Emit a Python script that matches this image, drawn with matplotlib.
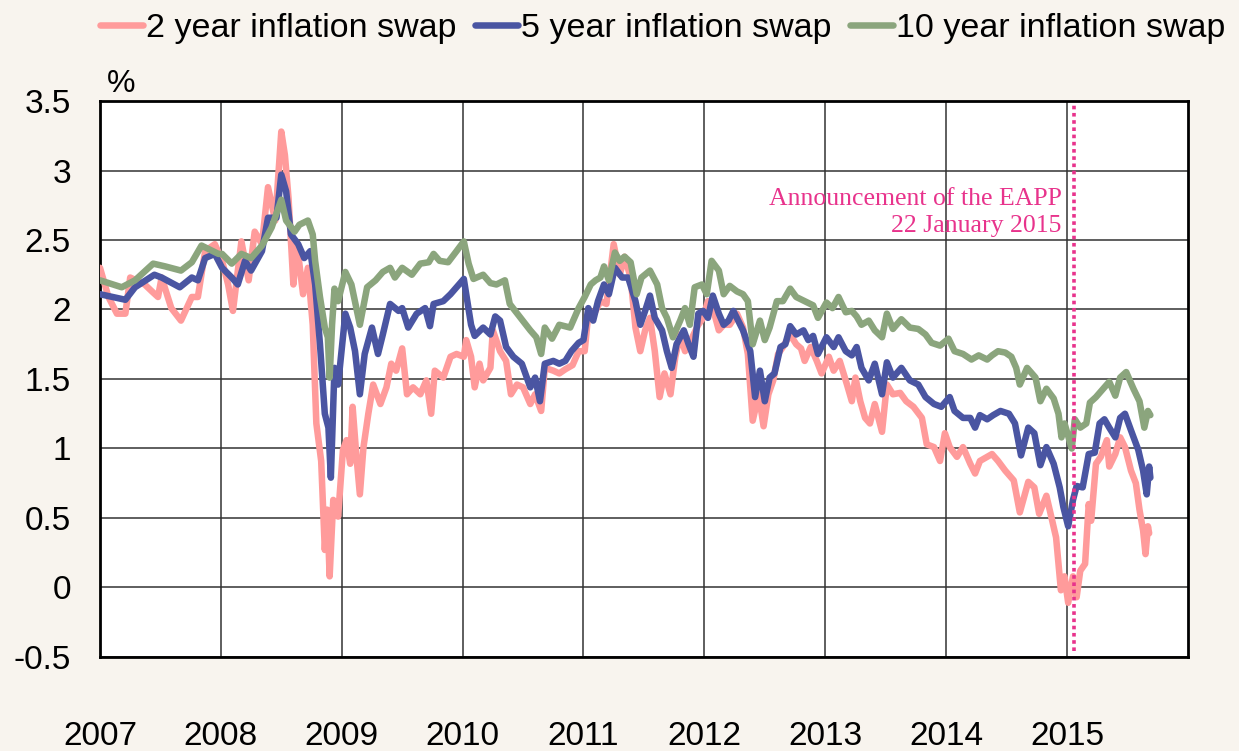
import matplotlib
matplotlib.use("Agg")
import matplotlib.pyplot as plt

plt.rcParams['font.family'] = ['Liberation Sans', 'DejaVu Sans']

# 2 year inflation swap (date as decimal year, value in %)
two_year_dates = [
    2007.00, 2007.07, 2007.14, 2007.21, 2007.25, 2007.37, 2007.43, 2007.48, 2007.51, 2007.59,
    2007.67, 2007.76, 2007.81, 2007.87, 2007.95, 2008.01, 2008.06, 2008.10, 2008.17, 2008.23,
    2008.28, 2008.34, 2008.39, 2008.45, 2008.50, 2008.53, 2008.56, 2008.60, 2008.63, 2008.68,
    2008.72, 2008.76, 2008.79, 2008.83, 2008.86, 2008.88, 2008.90, 2008.93, 2008.97, 2009.01,
    2009.04, 2009.07, 2009.09, 2009.12, 2009.15, 2009.18, 2009.22, 2009.26, 2009.32, 2009.37,
    2009.41, 2009.45, 2009.50, 2009.54, 2009.59, 2009.65, 2009.70, 2009.74, 2009.77, 2009.84,
    2009.90, 2009.95, 2010.01, 2010.03, 2010.07, 2010.10, 2010.14, 2010.17, 2010.23, 2010.25,
    2010.31, 2010.36, 2010.40, 2010.45, 2010.50, 2010.56, 2010.60, 2010.65, 2010.68, 2010.75,
    2010.80, 2010.85, 2010.91, 2010.96, 2011.01, 2011.04, 2011.10, 2011.14, 2011.19, 2011.25,
    2011.30, 2011.34, 2011.39, 2011.43, 2011.47, 2011.51, 2011.55, 2011.59, 2011.63, 2011.67,
    2011.72, 2011.76, 2011.80, 2011.84, 2011.90, 2011.95, 2011.99, 2012.03, 2012.07, 2012.12,
    2012.16, 2012.21, 2012.27, 2012.32, 2012.36, 2012.40, 2012.45, 2012.49, 2012.53, 2012.57,
    2012.61, 2012.65, 2012.71, 2012.76, 2012.80, 2012.83, 2012.88, 2012.93, 2012.97, 2013.03,
    2013.07, 2013.12, 2013.18, 2013.22, 2013.25, 2013.29, 2013.33, 2013.37, 2013.41, 2013.47,
    2013.51, 2013.56, 2013.62, 2013.67, 2013.73, 2013.80, 2013.84, 2013.90, 2013.95, 2013.99,
    2014.03, 2014.09, 2014.14, 2014.20, 2014.24, 2014.28, 2014.34, 2014.38, 2014.43, 2014.49,
    2014.56, 2014.61, 2014.68, 2014.73, 2014.77, 2014.83, 2014.87, 2014.91, 2014.95, 2014.98,
    2015.01, 2015.05, 2015.08, 2015.11, 2015.15, 2015.18, 2015.20, 2015.24, 2015.28, 2015.33,
    2015.35, 2015.40, 2015.44, 2015.48, 2015.53, 2015.57, 2015.60, 2015.63, 2015.65, 2015.67,
    2015.68,
]
two_year = [
    2.30, 2.09, 1.97, 1.97, 2.23, 2.18, 2.13, 2.09, 2.23, 2.01,
    1.92, 2.09, 2.09, 2.42, 2.47, 2.35, 2.18, 1.99, 2.49, 2.21,
    2.56, 2.47, 2.88, 2.64, 3.28, 3.11, 2.80, 2.18, 2.47, 2.11,
    2.30, 1.89, 1.18, 0.91, 0.27, 0.56, 0.08, 0.63, 0.51, 0.99,
    1.06, 0.89, 1.30, 0.96, 0.67, 1.01, 1.25, 1.46, 1.32, 1.44,
    1.61, 1.56, 1.72, 1.39, 1.44, 1.39, 1.49, 1.25, 1.56, 1.51,
    1.66, 1.68, 1.66, 1.78, 1.66, 1.44, 1.61, 1.49, 1.58, 1.85,
    1.70, 1.63, 1.39, 1.46, 1.44, 1.32, 1.39, 1.27, 1.58, 1.56,
    1.54, 1.57, 1.60, 1.70, 1.70, 1.97, 1.99, 2.06, 2.04, 2.47,
    2.25, 2.38, 2.23, 1.87, 1.70, 1.85, 1.94, 1.70, 1.37, 1.54,
    1.39, 1.66, 1.82, 1.70, 1.80, 1.89, 1.94, 2.06, 2.01, 1.85,
    1.89, 1.89, 1.97, 1.87, 1.68, 1.20, 1.39, 1.16, 1.39, 1.49,
    1.68, 1.73, 1.82, 1.75, 1.72, 1.63, 1.73, 1.63, 1.54, 1.66,
    1.56, 1.63, 1.46, 1.34, 1.51, 1.34, 1.22, 1.18, 1.32, 1.12,
    1.46, 1.39, 1.40, 1.34, 1.30, 1.22, 1.03, 1.01, 0.91, 1.11,
    1.01, 0.94, 1.01, 0.89, 0.82, 0.91, 0.94, 0.96, 0.91, 0.84,
    0.77, 0.54, 0.76, 0.72, 0.53, 0.66, 0.51, 0.36, -0.02, 0.08,
    -0.11, 0.08, -0.07, 0.12, 0.17, 0.60, 0.48, 0.89, 0.94, 1.06,
    0.87, 0.96, 1.08, 1.01, 0.84, 0.75, 0.56, 0.41, 0.24, 0.44,
    0.39,
]

# 5 year inflation swap
five_year_dates = [
    2007.00, 2007.21, 2007.29, 2007.45, 2007.51, 2007.66, 2007.76, 2007.81, 2007.87, 2007.95,
    2008.01, 2008.09, 2008.14, 2008.20, 2008.25, 2008.34, 2008.39, 2008.46, 2008.50, 2008.54,
    2008.58, 2008.64, 2008.69, 2008.74, 2008.78, 2008.82, 2008.86, 2008.89, 2008.91, 2008.94,
    2008.97, 2009.03, 2009.07, 2009.11, 2009.15, 2009.19, 2009.25, 2009.30, 2009.34, 2009.40,
    2009.47, 2009.50, 2009.55, 2009.62, 2009.69, 2009.73, 2009.76, 2009.84, 2009.90, 2009.95,
    2010.01, 2010.03, 2010.07, 2010.10, 2010.17, 2010.23, 2010.27, 2010.31, 2010.36, 2010.42,
    2010.49, 2010.56, 2010.60, 2010.64, 2010.68, 2010.75, 2010.80, 2010.85, 2010.90, 2010.96,
    2011.00, 2011.04, 2011.08, 2011.12, 2011.17, 2011.21, 2011.26, 2011.32, 2011.37, 2011.43,
    2011.47, 2011.51, 2011.55, 2011.59, 2011.65, 2011.69, 2011.73, 2011.77, 2011.83, 2011.87,
    2011.91, 2011.95, 2011.99, 2012.03, 2012.07, 2012.12, 2012.16, 2012.20, 2012.24, 2012.28,
    2012.32, 2012.38, 2012.42, 2012.46, 2012.50, 2012.54, 2012.58, 2012.63, 2012.67, 2012.71,
    2012.76, 2012.82, 2012.86, 2012.90, 2012.94, 2013.01, 2013.07, 2013.11, 2013.17, 2013.22,
    2013.26, 2013.30, 2013.36, 2013.41, 2013.47, 2013.51, 2013.56, 2013.63, 2013.70, 2013.77,
    2013.83, 2013.90, 2013.96, 2014.03, 2014.07, 2014.14, 2014.20, 2014.24, 2014.28, 2014.34,
    2014.39, 2014.45, 2014.52, 2014.57, 2014.62, 2014.68, 2014.73, 2014.78, 2014.83, 2014.89,
    2014.94, 2014.97, 2015.01, 2015.05, 2015.08, 2015.13, 2015.18, 2015.23, 2015.27, 2015.31,
    2015.35, 2015.40, 2015.44, 2015.48, 2015.53, 2015.59, 2015.63, 2015.66, 2015.68, 2015.69,
]
five_year = [
    2.11, 2.07, 2.16, 2.25, 2.23, 2.16, 2.23, 2.21, 2.37, 2.40,
    2.30, 2.23, 2.18, 2.35, 2.28, 2.42, 2.66, 2.66, 2.97, 2.85,
    2.54, 2.47, 2.37, 2.42, 2.18, 1.75, 1.25, 1.15, 0.79, 1.58,
    1.46, 1.97, 1.87, 1.70, 1.39, 1.68, 1.87, 1.68, 1.82, 2.04,
    1.99, 2.01, 1.87, 1.97, 2.01, 1.88, 2.04, 2.06, 2.11, 2.16,
    2.22, 2.11, 1.89, 1.81, 1.87, 1.82, 1.95, 1.92, 1.73, 1.66,
    1.61, 1.44, 1.51, 1.34, 1.61, 1.63, 1.61, 1.63, 1.70, 1.76,
    1.78, 2.01, 1.92, 2.06, 2.18, 2.11, 2.30, 2.23, 2.23, 2.06,
    1.89, 1.99, 2.10, 1.94, 1.85, 1.70, 1.58, 1.75, 1.85, 1.75,
    1.66, 1.97, 1.99, 1.94, 2.10, 1.97, 1.89, 1.92, 1.99, 1.92,
    1.85, 1.70, 1.37, 1.56, 1.34, 1.51, 1.54, 1.73, 1.75, 1.88,
    1.82, 1.85, 1.78, 1.81, 1.68, 1.80, 1.73, 1.80, 1.70, 1.67,
    1.73, 1.58, 1.49, 1.61, 1.39, 1.62, 1.51, 1.58, 1.49, 1.46,
    1.37, 1.32, 1.30, 1.37, 1.27, 1.22, 1.22, 1.15, 1.24, 1.21,
    1.24, 1.27, 1.25, 1.18, 0.95, 1.15, 1.11, 0.88, 1.01, 0.89,
    0.72, 0.58, 0.44, 0.63, 0.73, 0.72, 0.96, 0.97, 1.18, 1.21,
    1.15, 1.08, 1.22, 1.25, 1.13, 0.99, 0.84, 0.67, 0.87, 0.79,
]

# 10 year inflation swap
ten_year_dates = [
    2007.00, 2007.18, 2007.29, 2007.44, 2007.54, 2007.67, 2007.76, 2007.84, 2007.98, 2008.01,
    2008.09, 2008.17, 2008.25, 2008.34, 2008.42, 2008.50, 2008.54, 2008.61, 2008.65, 2008.72,
    2008.76, 2008.78, 2008.82, 2008.86, 2008.885, 2008.90, 2008.92, 2008.94, 2008.97, 2009.03,
    2009.08, 2009.15, 2009.21, 2009.28, 2009.34, 2009.40, 2009.44, 2009.50, 2009.58, 2009.65,
    2009.72, 2009.76, 2009.81, 2009.88, 2009.95, 2010.01, 2010.05, 2010.09, 2010.17, 2010.23,
    2010.28, 2010.35, 2010.39, 2010.47, 2010.56, 2010.61, 2010.65, 2010.68, 2010.74, 2010.80,
    2010.89, 2010.96, 2011.01, 2011.06, 2011.10, 2011.14, 2011.17, 2011.21, 2011.26, 2011.30,
    2011.34, 2011.39, 2011.44, 2011.48, 2011.55, 2011.61, 2011.65, 2011.69, 2011.74, 2011.80,
    2011.84, 2011.88, 2011.92, 2011.98, 2012.02, 2012.06, 2012.12, 2012.16, 2012.21, 2012.27,
    2012.32, 2012.36, 2012.40, 2012.46, 2012.50, 2012.54, 2012.60, 2012.65, 2012.71, 2012.76,
    2012.83, 2012.90, 2012.94, 2013.01, 2013.06, 2013.11, 2013.17, 2013.22, 2013.26, 2013.30,
    2013.36, 2013.41, 2013.47, 2013.51, 2013.56, 2013.63, 2013.70, 2013.77, 2013.83, 2013.88,
    2013.95, 2014.02, 2014.07, 2014.14, 2014.21, 2014.27, 2014.34, 2014.38, 2014.43, 2014.49,
    2014.54, 2014.58, 2014.61, 2014.67, 2014.74, 2014.78, 2014.83, 2014.89, 2014.93, 2014.955,
    2014.98, 2015.04, 2015.065, 2015.11, 2015.16, 2015.19, 2015.24, 2015.30, 2015.35, 2015.40,
    2015.44, 2015.49, 2015.55, 2015.60, 2015.64, 2015.67, 2015.69,
]
ten_year = [
    2.21, 2.16, 2.21, 2.33, 2.31, 2.28, 2.34, 2.46, 2.40, 2.40,
    2.33, 2.40, 2.37, 2.46, 2.59, 2.79, 2.64, 2.56, 2.61, 2.64,
    2.54, 2.35, 2.09, 1.87, 1.80, 1.51, 1.89, 2.15, 2.06, 2.27,
    2.18, 1.89, 2.16, 2.21, 2.27, 2.30, 2.23, 2.30, 2.25, 2.33,
    2.34, 2.40, 2.35, 2.34, 2.42, 2.49, 2.33, 2.22, 2.25, 2.19,
    2.18, 2.21, 2.04, 1.95, 1.85, 1.80, 1.68, 1.87, 1.79, 1.89,
    1.87, 2.01, 2.09, 2.18, 2.21, 2.23, 2.31, 2.21, 2.41, 2.35,
    2.38, 2.34, 2.11, 2.23, 2.28, 2.18, 2.01, 1.94, 1.80, 1.92,
    2.01, 1.89, 2.16, 2.18, 2.11, 2.35, 2.28, 2.11, 2.17, 2.13,
    2.11, 2.06, 1.75, 1.92, 1.78, 1.87, 2.06, 2.06, 2.15, 2.09,
    2.06, 2.03, 1.94, 2.05, 2.01, 2.09, 1.98, 1.99, 1.95, 1.89,
    1.92, 1.85, 1.80, 1.97, 1.86, 1.93, 1.87, 1.86, 1.82, 1.76,
    1.74, 1.79, 1.70, 1.68, 1.64, 1.67, 1.64, 1.67, 1.70, 1.69,
    1.66, 1.58, 1.46, 1.58, 1.51, 1.34, 1.43, 1.36, 1.25, 1.08,
    1.18, 1.00, 1.21, 1.15, 1.18, 1.33, 1.37, 1.43, 1.48, 1.38,
    1.51, 1.55, 1.43, 1.34, 1.15, 1.27, 1.24,
]

year_ticks = [2007, 2008, 2009, 2010, 2011, 2012, 2013, 2014, 2015]
y_ticks = [-0.5, 0, 0.5, 1, 1.5, 2, 2.5, 3, 3.5]
y_labels = ["-0.5", "0", "0.5", "1", "1.5", "2", "2.5", "3", "3.5"]
eapp_date = 2015.057  # 22 January 2015

fig = plt.figure(figsize=(12.39, 7.51), dpi=100, facecolor="#f8f4ee")
ax = fig.add_axes([0.0807, 0.1252, 0.878, 0.7403])
ax.set_facecolor("white")

ax.plot(two_year_dates, two_year, color="#ff9b9b", lw=4.7, solid_capstyle="round",
        solid_joinstyle="round", label="2 year inflation swap", zorder=3)
ax.plot(five_year_dates, five_year, color="#4a55a2", lw=4.7, solid_capstyle="round",
        solid_joinstyle="round", label="5 year inflation swap", zorder=4)
ax.plot(ten_year_dates, ten_year, color="#8ba57d", lw=4.7, solid_capstyle="round",
        solid_joinstyle="round", label="10 year inflation swap", zorder=5)

ax.axvline(eapp_date, ymin=0.01, ymax=0.995, color="#e8338c", lw=2.6,
           linestyle=(0, (1.0, 1.0)), zorder=6)
ax.text(eapp_date - 0.1, 2.70, "Announcement of the EAPP\n22 January 2015",
        ha="right", va="center", color="#e8338c", fontsize=18.5,
        family="Liberation Serif", linespacing=1.3, zorder=7)

ax.set_xlim(2007, 2016)
ax.set_ylim(-0.5, 3.5)
ax.set_xticks(year_ticks)
ax.set_xticklabels([str(y) for y in year_ticks])
ax.set_yticks(y_ticks)
ax.set_yticklabels(y_labels)
ax.tick_params(axis="x", length=0, pad=46, labelsize=24)
ax.tick_params(axis="y", length=0, pad=21, labelsize=24)

ax.grid(True, color="#333333", lw=1.1, zorder=1)
ax.set_axisbelow(True)
for s in ax.spines.values():
    s.set_linewidth(2.0)
    s.set_color("black")

fig.text(0.086, 0.868, "%", fontsize=23, ha="left", va="bottom")

fig.legend(loc="center", bbox_to_anchor=(0.535, 0.962), ncol=3, frameon=False,
           fontsize=24.5, handlelength=1.25, handletextpad=0.1, columnspacing=0.55,
           borderaxespad=0)

fig.savefig("out.png", dpi=100, facecolor=fig.get_facecolor())
